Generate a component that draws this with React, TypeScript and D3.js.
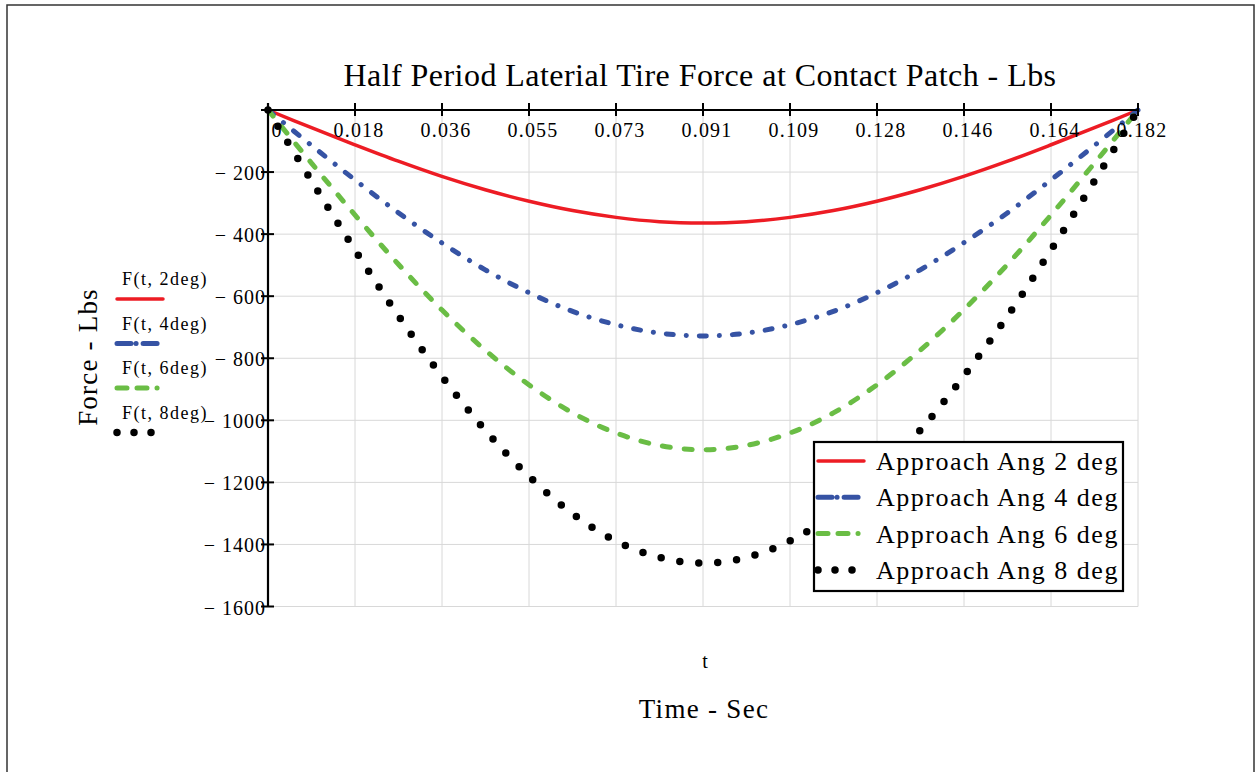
import React from "react";
import * as d3 from "d3";

// time samples (sec) and force curves (lbs)
const timeSec = [
  0, 0.0091, 0.0182, 0.0273, 0.0364, 0.0455, 0.0547, 0.0638, 0.0729, 0.082,
  0.0911, 0.1002, 0.1093, 0.1184, 0.1275, 0.1366, 0.1457, 0.1549, 0.164,
  0.1731, 0.1822
];
const force2deg = [
  0, -57, -112, -165, -214, -257, -294, -324, -346, -360, -364, -360, -346,
  -324, -294, -257, -214, -165, -112, -57, 0
];
const force4deg = [
  0, -114, -225, -331, -428, -515, -589, -649, -692, -719, -728, -719, -692,
  -649, -589, -515, -428, -331, -225, -114, 0
];
const force6deg = [
  0, -171, -338, -497, -644, -774, -886, -976, -1041, -1081, -1095, -1081,
  -1041, -976, -886, -774, -644, -497, -338, -171, 0
];
const force8deg = [
  0, -228, -451, -663, -858, -1032, -1181, -1301, -1389, -1442, -1460, -1442,
  -1389, -1301, -1181, -1032, -858, -663, -451, -228, 0
];

const xTickLabels = [
  "0", "0.018", "0.036", "0.055", "0.073", "0.091", "0.109", "0.128",
  "0.146", "0.164", "0.182"
];
const yTicks = [0, -200, -400, -600, -800, -1000, -1200, -1400, -1600];

const seriesNames = ["F(t, 2deg)", "F(t, 4deg)", "F(t, 6deg)", "F(t, 8deg)"];
const legendNames = [
  "Approach Ang 2 deg",
  "Approach Ang 4 deg",
  "Approach Ang 6 deg",
  "Approach Ang 8 deg"
];

const FONT = "'Liberation Serif', 'Times New Roman', serif";

const styles = [
  { color: "#ed1c24", width: 3.5, dash: undefined, cap: "round" },
  { color: "#3653a4", width: 5, dash: "7 13 0.1 13", cap: "round" },
  { color: "#6abd45", width: 5, dash: "8 14", cap: "round" },
  { color: "#000000", width: 7.5, dash: "0 19", cap: "round" }
];
const legendDash = [undefined, "14 5 0.1 7 14 20", "10 10 10 10 0.1 20", "0 17"];

export default function App() {
  const left = 268;
  const right = 1138;
  const top = 110;
  const bottom = 606.5;

  const x = d3.scaleLinear().domain([0, 0.1822]).range([left, right]);
  const y = d3.scaleLinear().domain([0, -1600]).range([top, bottom]);
  const xTickVals = d3.range(11).map(i => (i * 0.1822) / 10);

  const line = d3
    .line<number>()
    .x((d, i) => x(timeSec[i]))
    .y(d => y(d))
    .curve(d3.curveCatmullRom);

  const allSeries = [force2deg, force4deg, force6deg, force8deg];

  return (
    <svg
      width={1256}
      height={772}
      style={{ position: "absolute", left: 0, top: 0, background: "#fff" }}
      fontFamily={FONT}
    >
      <rect x={7} y={5} width={1247} height={800} fill="#fff" stroke="#333" strokeWidth={1.5} />

      {/* grid */}
      {xTickVals.slice(1).map((t, i) => (
        <line key={"gx" + i} x1={x(t)} x2={x(t)} y1={top} y2={bottom} stroke="#d8d8d8" strokeWidth={1} />
      ))}
      {yTicks.slice(1).map(v => (
        <line key={"gy" + v} x1={left} x2={right} y1={y(v)} y2={y(v)} stroke="#d8d8d8" strokeWidth={1} />
      ))}

      {/* title */}
      <text x={700} y={86} fontSize={32} letterSpacing={0.45} textAnchor="middle">
        Half Period Laterial Tire Force at Contact Patch - Lbs
      </text>

      {/* curves */}
      {allSeries.map((s, i) => (
        <path
          key={"s" + i}
          d={line(s) || ""}
          fill="none"
          stroke={styles[i].color}
          strokeWidth={styles[i].width}
          strokeDasharray={styles[i].dash}
          strokeLinecap={styles[i].cap as any}
          strokeLinejoin="round"
        />
      ))}

      {/* axes */}
      <line x1={261} x2={right} y1={top} y2={top} stroke="#000" strokeWidth={2.2} />
      <line x1={left} x2={left} y1={103} y2={bottom} stroke="#000" strokeWidth={2.2} />
      {xTickVals.map((t, i) => (
        <line key={"tx" + i} x1={x(t)} x2={x(t)} y1={103} y2={116} stroke="#000" strokeWidth={2} />
      ))}
      {yTicks.map(v => (
        <line key={"ty" + v} x1={261} x2={274} y1={y(v)} y2={y(v)} stroke="#000" strokeWidth={2} />
      ))}

      {xTickLabels.map((lab, i) => (
        <text
          key={"lx" + i}
          x={x(xTickVals[i]) + (i === 0 ? 9 : 4)}
          y={137}
          fontSize={20}
          letterSpacing={1.2}
          textAnchor="middle"
        >
          {lab}
        </text>
      ))}
      {yTicks.slice(1).map(v => (
        <text key={"ly" + v} x={266} y={y(v) + 8} fontSize={20} letterSpacing={1} textAnchor="end">
          {"\u2212 " + Math.abs(v)}
        </text>
      ))}

      {/* axis titles */}
      <text
        x={97}
        y={357}
        fontSize={27}
        letterSpacing={1.2}
        textAnchor="middle"
        transform="rotate(-90 97 357)"
      >
        Force - Lbs
      </text>
      <text x={705} y={668} fontSize={20} textAnchor="middle">
        t
      </text>
      <text x={704} y={718} fontSize={27} letterSpacing={1.3} textAnchor="middle">
        Time - Sec
      </text>

      {/* left trace labels */}
      {seriesNames.map((name, i) => {
        const base = 285 + i * 44.5;
        return (
          <g key={"ln" + i}>
            <text x={122} y={base} fontSize={18} letterSpacing={1.5}>
              {name}
            </text>
            <line
              x1={117}
              x2={163}
              y1={base + 14}
              y2={base + 14}
              stroke={styles[i].color}
              strokeWidth={styles[i].width}
              strokeDasharray={legendDash[i]}
              strokeLinecap={styles[i].cap as any}
            />
          </g>
        );
      })}

      {/* legend box */}
      <rect x={814} y={442} width={309} height={149} fill="#fff" stroke="#000" strokeWidth={2.2} />
      {legendNames.map((name, i) => {
        const ly = 461 + i * 36.3;
        return (
          <g key={"lg" + i}>
            <line
              x1={818}
              x2={864}
              y1={ly}
              y2={ly}
              stroke={styles[i].color}
              strokeWidth={styles[i].width}
              strokeDasharray={legendDash[i]}
              strokeLinecap={styles[i].cap as any}
            />
            <text x={876} y={ly + 9} fontSize={26} letterSpacing={1.5}>
              {name}
            </text>
          </g>
        );
      })}
    </svg>
  );
}
